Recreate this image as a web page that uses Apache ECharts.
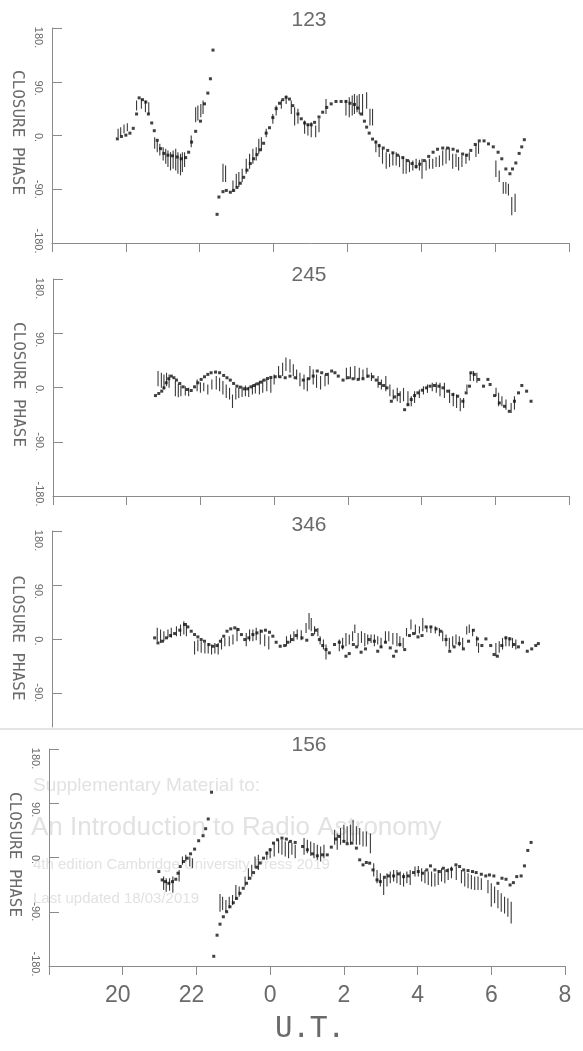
<!DOCTYPE html>
<html><head><meta charset="utf-8">
<script src="https://cdn.jsdelivr.net/npm/echarts@6/dist/echarts.min.js"></script>
<style>html,body{margin:0;padding:0;background:#fff}#c{width:583px;height:1051px}</style>
</head><body><div id="c"></div>
<script>
// Closure phase (degrees) versus U.T. (hours; 24 = 0h next day)
const panelTitles = ['123', '245', '346', '156'];
const xTickHours = [18, 20, 22, 24, 26, 28, 30, 32];
const yTickValues = [-180, -90, 0, 90, 180];
const yAxisTitle = 'CLOSURE PHASE';
const xAxisTitle = 'U.T.';

// ---- Triangle 123 ----
const p1ModelT = [19.77,19.88,20.00,20.11,20.20,20.29,20.36,20.45,20.54,20.61,20.70,20.77,20.85,20.94,21.03,21.14,21.26,21.39,21.50,21.62,21.70,21.78,21.89,22.02,22.13,22.22,22.29,22.36,22.47,22.52,22.63,22.72,22.83,22.92,23.01,23.10,23.19,23.28,23.37,23.46,23.55,23.64,23.73,23.80,23.89,23.98,24.07,24.16,24.25,24.34,24.43,24.52,24.66,24.75,24.84,24.93,25.02,25.11,25.23,25.33,25.44,25.56,25.69,25.83,25.96,26.07,26.19,26.28,26.37,26.46,26.52,26.59,26.68,26.77,26.86,26.97,27.09,27.23,27.36,27.50,27.63,27.75,27.86,27.96,28.08,28.20,28.32,28.44,28.58,28.71,28.86,28.98,29.12,29.23,29.34,29.46,29.57,29.70,29.82,29.95,30.08,30.18,30.29,30.40,30.47,30.56,30.65,30.72,30.79];
const p1ModelPhase = [-5.6,-1.7,0.6,3.9,12,36,63,60,56,36,21,8,-8,-22,-30,-33,-34,-36,-39,-37,-28,-11,7,24,53,71,95,143,-132,-103,-94,-92,-95,-92,-87,-80,-70,-58,-47,-39,-32,-24,-13,4,13,30,45,54,60,64,61,50,36,28,21,18,18,22,31,39,47,53,57,57,57,54,52,46,36,24,14,4,-6,-11,-17,-21,-25,-29,-33,-37,-42,-47,-52,-48,-42,-35,-28,-23,-21,-21,-23,-26,-31,-33,-25,-15,-9,-9,-14,-19,-28,-39,-56,-64,-56,-46,-30,-19,-7];
const p1ObsT = [19.79,19.86,19.95,20.04,20.29,20.42,20.53,20.62,20.78,20.85,20.92,21.01,21.08,21.14,21.21,21.28,21.35,21.41,21.48,21.53,21.59,21.77,21.89,21.95,22.03,22.09,22.63,22.70,22.90,22.99,23.06,23.15,23.26,23.35,23.44,23.53,23.60,23.67,23.80,23.98,24.07,24.21,24.34,24.48,24.57,24.66,24.84,24.93,25.02,25.14,25.23,25.42,25.96,26.05,26.13,26.19,26.26,26.32,26.41,26.52,26.61,26.68,26.77,26.86,26.95,27.05,27.14,27.23,27.32,27.41,27.51,27.59,27.68,27.77,27.86,27.95,28.02,28.13,28.22,28.31,28.40,28.49,28.58,28.67,28.76,28.85,28.94,29.01,29.10,29.21,29.30,29.48,29.55,30.02,30.11,30.22,30.29,30.36,30.45,30.54];
const p1ObsLo = [-2.8,0,3.9,7.2,41.8,44.6,39,36.2,-22.3,-27.9,-33.4,-41.8,-47.3,-52.9,-58.5,-55.7,-58.5,-64.1,-66.8,-61.3,-52.9,-19.5,22.3,25.1,30.6,36.2,-78,-78,-94.7,-86.3,-86.3,-78,-64.1,-55.7,-47.3,-41.8,-30.6,-25.1,-2.8,19.5,33.4,44.6,52.9,36.2,16.7,19.5,2.8,0,-2.8,-2.8,5.6,36.2,33.4,30.6,33.4,36.2,39,36.2,33.4,44.6,16.7,16.7,-27.9,-36.2,-47.3,-55.7,-52.9,-50.1,-50.1,-52.9,-64.1,-64.1,-61.3,-58.5,-55.7,-58.5,-72.4,-58.5,-55.7,-55.7,-52.9,-52.9,-50.1,-47.3,-41.8,-55.7,-52.9,-58.5,-52.9,-47.3,-41.8,-36.2,-30.6,-69.6,-78,-97.5,-97.5,-100.3,-133.7,-128.1];
const p1ObsHi = [11.1,13.9,18.4,20.6,58.5,61.3,58.5,55.7,-2.8,-8.4,-13.9,-19.5,-22.3,-25.1,-27.9,-25.1,-22.3,-27.9,-30.6,-27.9,-27.9,0,47.3,50.1,52.9,58.5,-47.3,-50.1,-75.2,-64.1,-61.3,-55.7,-39,-30.6,-22.3,-19.5,-5.6,-2.8,11.1,36.2,50.1,59.6,66.8,58.5,47.3,44.6,25.1,19.5,22.3,16.7,27.9,61.3,59.6,64.1,66.8,69.6,66.8,69.6,69.6,72.4,44.6,44.6,-8.4,-13.9,-22.3,-27.9,-30.6,-27.9,-27.9,-33.4,-36.2,-39,-41.8,-41.8,-39,-40.7,-39,-41.8,-39,-39,-36.2,-33.4,-25.1,-22.3,-19.5,-30.6,-30.6,-36.2,-33.4,-30.6,-27.9,-13.9,-11.1,-41.8,-58.5,-78,-78,-80.8,-103,-97.5];

// ---- Triangle 245 ----
const p2ModelT = [20.78,20.87,20.95,21.01,21.07,21.14,21.21,21.28,21.35,21.44,21.53,21.64,21.75,21.84,21.93,22.02,22.11,22.20,22.29,22.41,22.52,22.63,22.72,22.81,22.90,22.99,23.08,23.19,23.28,23.37,23.46,23.55,23.64,23.73,23.82,23.91,24.03,24.16,24.30,24.43,24.57,24.79,24.93,25.06,25.17,25.29,25.42,25.56,25.65,25.74,25.87,26.01,26.14,26.28,26.41,26.55,26.68,26.77,26.86,26.97,27.06,27.18,27.27,27.38,27.54,27.63,27.72,27.81,27.90,28.02,28.13,28.23,28.35,28.47,28.58,28.71,28.85,28.98,29.12,29.21,29.30,29.34,29.43,29.55,29.68,29.80,29.86,29.98,30.11,30.25,30.38,30.52,30.63,30.72,30.85,30.97];
const p2ModelPhase = [-13.4,-10,-6.1,-0.6,7.8,14.5,18.9,16.2,12.3,6.7,1.1,-3.3,-5,1.1,7.8,13.4,17.8,21.7,24.5,25.6,24.5,20,16.2,12.3,6.7,2.2,0.6,-2.2,-2.2,1.1,3.3,6.1,8.9,12.3,15,16.7,17.8,17.8,16.2,18.9,16.2,12.3,14.5,18.9,27.3,24.5,21.7,27.3,24.5,18.9,12.3,16.2,14.5,13.4,14.5,18.9,17.8,12.3,6.7,3.3,-0.6,-22.8,-15.6,-11.7,-36.8,-28.4,-20,-13.4,-8.9,-4.5,-0.6,2.2,3.3,2.2,-0.6,-6.1,-11.7,-14.5,-22.8,-8.9,2.2,24.5,21.7,13.4,2.2,13.4,5,-13.4,-25.6,-31.2,-39.5,-22.8,-8.9,3.3,-6.1,-22.8];
const p2ObsT = [20.85,20.94,21.01,21.08,21.15,21.32,21.40,21.47,21.59,21.68,21.91,22.00,22.09,22.20,22.31,22.43,22.52,22.61,22.70,22.79,22.87,22.96,23.04,23.13,23.22,23.31,23.41,23.49,23.60,23.69,23.80,23.91,24.00,24.12,24.23,24.32,24.43,24.52,24.61,24.70,24.81,24.90,24.97,25.06,25.15,25.26,25.38,25.47,25.96,26.07,26.19,26.31,26.41,26.52,26.64,26.82,26.91,27.03,27.14,27.23,27.34,27.42,27.51,27.63,27.72,27.81,27.94,28.05,28.16,28.29,28.40,28.50,28.62,28.76,28.86,28.95,29.05,29.14,29.23,29.32,29.41,29.50,30.02,30.09,30.18,30.29,30.43,30.52];
const p2ObsLo = [2.2,-0.6,-3.3,2.2,-0.6,-14.5,-16.2,-14.5,-13.4,-14.5,-6.1,-8.9,-6.1,-11.7,-3.3,-3.3,-6.1,-11.7,-17.3,-20,-34,-20,-17.3,-15.6,-14.5,-15.6,-11.7,-10,-11.7,-8.9,-6.1,-8.9,5,16.2,18.9,27.3,24.5,18.9,13.4,2.2,-3.3,-6.1,13.4,5,-0.6,-3.3,2.2,5,13.4,14.5,13.4,13.4,14.5,16.2,10.6,-0.6,-3.3,-6.1,-14.5,-20,-22.8,-25.6,-22.8,-31.2,-31.2,-25.6,-17.3,-11.7,-8.9,-6.1,-8.9,-14.5,-17.3,-25.6,-31.2,-34,-39.5,-34,-6.1,10.6,10.6,7.8,-14.5,-31.2,-31.2,-36.8,-42.3,-36.8];
const p2ObsHi = [27.3,24.5,21.7,24.5,21.7,10.6,6.7,3.3,2.2,-0.6,13.4,8.9,7.8,5,13.4,18.9,16.2,10.6,5,-0.6,-11.7,-0.6,-0.6,2.2,3.3,1.1,5,7.8,10.6,13.4,13.4,16.2,21.7,35.6,41.2,49.6,46.8,38.4,30,24.5,21.7,16.2,35.6,30,21.7,18.9,21.7,24.5,32.8,34.5,35.6,32.8,30,32.8,24.5,18.9,13.4,18.9,5,-3.3,-0.6,-6.1,-0.6,-6.1,-14.5,-6.1,-3.3,2.2,5,7.8,8.9,7.8,7.8,-3.3,-8.9,-11.7,-17.3,-17.3,5,24.5,27.3,24.5,-0.6,-8.9,-14.5,-20,-25.6,-14.5];

// ---- Triangle 346 ----
const p3ModelT = [20.78,20.87,20.99,21.10,21.21,21.32,21.46,21.59,21.68,21.77,21.86,21.95,22.04,22.13,22.25,22.36,22.47,22.56,22.65,22.74,22.84,22.95,23.04,23.13,23.22,23.33,23.44,23.55,23.67,23.78,23.89,23.98,24.07,24.18,24.30,24.39,24.50,24.61,24.77,24.90,25.05,25.15,25.24,25.33,25.42,25.51,25.65,25.78,25.87,25.96,26.05,26.16,26.25,26.37,26.49,26.59,26.73,26.82,26.91,27.03,27.16,27.25,27.32,27.42,27.55,27.68,27.79,27.91,28.02,28.13,28.26,28.40,28.53,28.67,28.77,28.89,29.03,29.14,29.28,29.41,29.52,29.64,29.75,29.88,29.97,30.06,30.18,30.29,30.40,30.51,30.63,30.74,30.87,30.99,31.10,31.17];
const p3ModelPhase = [1.7,-6.7,-3.9,1.7,5.6,8.9,14.5,24,20,12.8,7.2,3.3,-1.1,-3.9,-9.5,-12.3,-11.1,-3.9,4.5,12.8,16.7,18.4,15.6,7.2,-1.1,1.7,7.2,10,12.8,14.5,11.1,4.5,-5.6,-12.3,-11.1,-5.6,-1.1,5.6,1.7,-2.2,7.2,14.4,-1.1,-11.1,-17.8,-23.3,-9.4,-5.6,-13.3,-28.9,-24.5,-9.4,-13.3,-22.2,-16.7,-1.1,-3.9,-20.6,-13.3,-5.6,-15,-28.9,-20.6,-9.4,-17.8,5.6,8.9,3.3,5.6,20,20,16.7,12.8,-1.1,-20.6,-13.3,-7.8,-16.7,-3.9,14.4,0,-11.1,0,-11.1,-26.1,-28.9,-11.1,1.7,0,-9.4,-13.3,-5.6,-20.6,-16.7,-11.1,-7.8];
const p3ObsT = [20.85,20.94,21.03,21.14,21.23,21.37,21.48,21.57,21.64,21.86,21.95,22.04,22.14,22.23,22.32,22.41,22.50,22.59,22.68,22.80,22.90,23.01,23.26,23.35,23.44,23.53,23.64,23.76,23.87,24.35,24.46,24.55,24.64,24.75,24.88,24.96,25.02,25.11,25.20,25.26,25.35,25.42,25.78,25.87,25.96,26.05,26.14,26.20,26.29,26.38,26.47,26.55,26.64,26.73,26.82,26.91,27.03,27.12,27.23,27.34,27.42,27.51,27.60,27.72,27.84,27.95,28.04,28.15,28.26,28.38,28.49,28.58,28.67,28.76,28.85,28.94,29.03,29.12,29.23,29.30,29.39,29.50,29.55,30.02,30.11,30.20,30.29,30.38,30.47,30.56];
const p3ObsLo = [-3.9,-6.7,-3.9,1.7,1.7,4.5,4.5,7.2,4.5,-26.1,-20.6,-23.3,-24.5,-24.5,-26.1,-24.5,-26.1,-17.8,-12.3,-12.3,-9.5,-3.9,-12.3,-3.9,-3.9,-2.2,-9.5,-12.3,-17.8,-12.3,-6.7,-3.9,-1.1,-2.2,10,15.6,12.8,7.2,4.4,-9.4,-17.8,-34.4,-20.6,-17.8,-12.2,-9.4,-3.9,10,-12.2,-6.7,-12.2,-9.4,-6.7,-12.2,-9.4,-15,-6.7,-3.9,-9.4,-12.2,-13.3,-15,4.4,15.6,7.2,8.9,12.8,11.1,10,8.9,4.4,-3.9,-12.2,-17.8,-12.2,-9.4,-12.2,-15,7.2,10,4.4,-12.2,-23.3,-28.9,-23.3,-17.8,-12.2,-12.2,-15,-17.8];
const p3ObsHi = [18.4,15.6,12.8,15.6,18.4,21.1,24,29.5,26.7,-3.9,-1.1,-3.9,-6.7,-6.7,-9.5,-6.7,-6.7,1.7,1.7,4.5,7.2,18.4,10,15.6,15.6,18.4,15.6,7.2,4.5,4.5,7.2,12.8,15.6,14.4,26.7,43.3,35,21.1,18.3,4.4,-1.1,-9.4,-1.1,1.7,10,7.2,12.8,23.9,10,12.8,10,7.2,7.2,7.2,4.4,1.7,12.8,12.8,10,10,4.4,1.7,18.3,32.2,23.9,21.1,35,21.1,21.1,21.1,18.3,12.8,7.2,1.7,4.4,7.2,4.4,1.7,21.1,23.9,16.7,4.4,-6.7,-6.7,-3.9,1.7,4.4,3.3,1.7,-1.1];

// ---- Triangle 156 ----
const p4ModelT = [20.98,21.07,21.16,21.25,21.35,21.44,21.50,21.56,21.65,21.75,21.84,21.95,22.06,22.18,22.25,22.32,22.41,22.47,22.56,22.64,22.73,22.82,22.91,23.00,23.09,23.18,23.27,23.36,23.45,23.55,23.64,23.73,23.82,23.91,24.00,24.09,24.20,24.32,24.44,24.55,24.68,24.88,25.01,25.15,25.28,25.42,25.55,25.66,25.78,25.87,26.00,26.09,26.22,26.34,26.43,26.52,26.61,26.70,26.79,26.90,26.99,27.10,27.21,27.35,27.48,27.62,27.75,27.89,28.02,28.14,28.25,28.35,28.47,28.59,28.70,28.80,28.92,29.04,29.14,29.25,29.37,29.49,29.59,29.73,29.85,29.95,30.07,30.18,30.29,30.40,30.51,30.60,30.69,30.81,30.90,30.99,31.08];
const p4ModelPhase = [-23.3,-37.2,-40,-42.8,-40,-36.1,-26.1,-15,-6.7,-1.1,6.1,13.9,27.8,36.1,47.8,63.9,108.3,-163.9,-128.9,-110.6,-98.3,-90,-81.7,-75,-67.8,-59.4,-51.1,-42.8,-34.4,-25,-16.1,-9,-1.1,7.2,12.8,23.9,29.4,32.2,30.6,26.7,25,18.3,12.8,6.1,2.8,4.4,4.4,17.2,30.6,35,26.7,22.8,23.9,15.6,-3.9,-12.2,-8.3,-9.4,-20.6,-37.2,-40,-32.8,-30.6,-30.6,-27.2,-31.7,-30.6,-25,-23.3,-26.1,-20.6,-13.9,-20.6,-23.3,-17.8,-21.7,-19.4,-12.2,-15,-20.6,-21.7,-23.3,-25,-27.8,-30.6,-28.9,-30.6,-42.8,-34.4,-36.1,-45.6,-41.7,-31.7,-30.6,-13.9,11.7,25];
const p4ObsT = [21.11,21.18,21.27,21.36,21.53,21.62,21.71,21.82,21.89,22.64,22.71,22.80,22.89,22.98,23.07,23.16,23.32,23.41,23.50,23.59,23.68,23.91,24.00,24.11,24.23,24.32,24.41,24.50,24.59,24.68,24.92,25.01,25.10,25.19,25.28,25.37,25.46,25.75,25.82,25.91,26.00,26.09,26.18,26.25,26.34,26.43,26.52,26.61,26.72,26.81,26.90,26.99,27.08,27.17,27.26,27.35,27.44,27.53,27.62,27.71,27.80,27.93,28.02,28.11,28.20,28.29,28.38,28.47,28.56,28.65,28.74,28.83,28.92,29.05,29.19,29.28,29.37,29.46,29.55,29.64,29.73,29.91,30.00,30.09,30.18,30.27,30.36,30.45,30.54];
const p4ObsLo = [-53.9,-56.7,-55,-58.3,-40,-12.2,-6.7,-15,-17.8,-90,-87.2,-90,-84.4,-78.9,-70.6,-65,-48.3,-37.2,-31.7,-17.8,-20.6,-3.9,-1.1,1.7,7.2,4.4,1.7,-1.1,4.4,-1.1,4.4,7.2,2.8,-1.1,-3.9,-6.7,-1.1,21.1,12.8,21.1,26.7,23.9,21.1,26.7,21.1,21.1,18.3,18.3,7.2,-31.7,-42.8,-48.3,-62.2,-48.3,-42.8,-40,-42.8,-45.6,-48.3,-42.8,-45.6,-31.7,-31.7,-40,-42.8,-45.6,-48.3,-48.3,-45.6,-40,-42.8,-37.2,-34.4,-37.2,-42.8,-48.3,-51.1,-52.8,-53.9,-53.9,-53.9,-59.4,-81.7,-76.1,-84.4,-90,-92.8,-98.3,-109.4];
const p4ObsHi = [-31.7,-34.4,-34.4,-31.7,-20.6,1.7,4.4,1.7,-1.1,-60.6,-65,-70.6,-65,-62.2,-45.6,-48.3,-31.7,-17.8,-12.2,1.7,4.4,10,15.6,23.9,29.4,29.4,26.7,26.7,23.9,21.1,32.2,29.4,26.7,23.9,21.1,18.3,21.1,46.1,40,48.9,54.4,51.7,54.4,62.8,51.7,48.9,43.3,43.3,40,-9.4,-20.6,-26.1,-34.4,-26.1,-23.3,-20.6,-20.6,-23.3,-26.1,-23.3,-20.6,-15,-13.9,-17.8,-20.6,-23.3,-23.3,-26.1,-20.6,-17.8,-20.6,-17.8,-15,-15,-20.6,-23.3,-26.1,-28.9,-31.7,-31.7,-34.4,-37.2,-42.8,-48.3,-53.9,-59.4,-65,-67.8,-73.3];

const panels = [
  {mt: p1ModelT, mp: p1ModelPhase, ot: p1ObsT, lo: p1ObsLo, hi: p1ObsHi},
  {mt: p2ModelT, mp: p2ModelPhase, ot: p2ObsT, lo: p2ObsLo, hi: p2ObsHi},
  {mt: p3ModelT, mp: p3ModelPhase, ot: p3ObsT, lo: p3ObsLo, hi: p3ObsHi},
  {mt: p4ModelT, mp: p4ModelPhase, ot: p4ObsT, lo: p4ObsLo, hi: p4ObsHi}
];

// layout (pixels)
const grids = [
  {left: 52, top: 28, width: 517, height: 215},
  {left: 53, top: 279, width: 516, height: 217},
  {left: 52, top: 531, width: 517, height: 196},
  {left: 49, top: 749, width: 516, height: 217}
];
const titleY = [20.5, 275, 525.5, 745.5];
const AX = '#8a8a8a', TX = '#6a6a6a';

const chart = echarts.init(document.getElementById('c'), null, {renderer: 'canvas'});

const yLabelStyle = {fontFamily: 'Liberation Sans', fontSize: 11, color: TX};
const labelRich = {
  a: {padding: [0, 0, 0, 19]}, b: {padding: [0, 0, 0, 13]}, c: {padding: [0, 0, 0, 4]},
  d: {padding: [0, 0, 0, 0]}, e: {padding: [0, 4, 0, 0]}
};
const labelKey = {'180': 'a', '90': 'b', '0': 'c', '-90': 'd', '-180': 'e'};
for (const k in labelRich) Object.assign(labelRich[k], yLabelStyle);

const xAxes = grids.map((g, i) => ({
  type: 'value', gridIndex: i, min: xTickHours[0], max: xTickHours[xTickHours.length - 1], interval: 2,
  show: i !== 2,
  axisLine: {onZero: false, lineStyle: {color: AX, width: 1}},
  axisTick: {inside: false, length: 9, lineStyle: {color: AX}},
  splitLine: {show: false},
  axisLabel: {
    show: i === 3, margin: 18, fontFamily: 'Liberation Sans', fontSize: 23, color: TX,
    formatter: v => {
      if (v === xTickHours[0]) return '';
      const h = v % 24;
      return h >= 10 ? '{w|' + h + '}' : String(h);
    },
    rich: {w: {fontFamily: 'Liberation Sans', fontSize: 23, color: TX, padding: [0, 10, 0, 0]}}
  }
}));

const yAxes = grids.map((g, i) => {
  const cut = i === 2;
  const vals = cut ? yTickValues.filter(v => v > -180) : yTickValues;
  return {
    type: 'value', gridIndex: i, min: cut ? -147 : -180, max: 180,
    interval: cut ? undefined : 90,
    axisLine: {show: true, onZero: false, lineStyle: {color: AX, width: 1}},
    axisTick: {show: true, inside: true, length: 10, lineStyle: {color: AX}, customValues: vals},
    splitLine: {show: false},
    axisLabel: {
      customValues: vals, rotate: -90, align: 'center', verticalAlign: 'top', margin: 8,
      formatter: v => '{' + labelKey[String(v)] + '|' + v + '.}', rich: labelRich
    },
    name: yAxisTitle, nameLocation: 'middle', nameRotate: -90, nameGap: 25,
    nameTextStyle: {fontFamily: 'DejaVu Sans Mono', fontSize: 16, color: TX, align: 'center', verticalAlign: 'top',
      padding: cut ? [0, 0, 0, 18] : [0, 0, 0, -6]}
  };
});

const series = [];
panels.forEach((p, i) => {
  series.push({
    type: 'custom', xAxisIndex: i, yAxisIndex: i, silent: true, z: 2,
    data: p.ot.map((t, k) => [t, p.lo[k], p.hi[k]]),
    encode: {x: 0, y: [1, 2]},
    renderItem: (params, api) => {
      const a = api.coord([api.value(0), api.value(1)]);
      const b = api.coord([api.value(0), api.value(2)]);
      return {type: 'line', shape: {x1: a[0], y1: a[1], x2: b[0], y2: b[1]}, style: {stroke: '#3a3a3a', lineWidth: 1.1}};
    }
  });
  series.push({
    type: 'scatter', xAxisIndex: i, yAxisIndex: i, silent: true, z: 3,
    data: p.mt.map((t, k) => [t, p.mp[k]]),
    symbol: 'rect', symbolSize: 3, itemStyle: {color: '#111'}
  });
});

const graphic = [];
const wm = '#e2e2e2';
graphic.push(
  {type: 'text', z: -10, style: {text: 'Supplementary Material to:', x: 33, y: 786, fill: wm, fontFamily: 'Liberation Sans', fontSize: 19, textVerticalAlign: 'middle'}},
  {type: 'text', z: -10, style: {text: 'An Introduction to Radio Astronomy', x: 31, y: 828, fill: wm, fontFamily: 'Liberation Sans', fontSize: 26, textVerticalAlign: 'middle'}},
  {type: 'text', z: -10, style: {text: '4th edition Cambridge University Press 2019', x: 33, y: 865, fill: wm, fontFamily: 'Liberation Sans', fontSize: 15, textVerticalAlign: 'middle'}},
  {type: 'text', z: -10, style: {text: 'Last updated 18/03/2019', x: 33, y: 899, fill: wm, fontFamily: 'Liberation Sans', fontSize: 15, textVerticalAlign: 'middle'}},
  {type: 'line', z: -10, shape: {x1: 0, y1: 729, x2: 583, y2: 729}, style: {stroke: '#e4e4e4', lineWidth: 2}}
);
panelTitles.forEach((t, i) => graphic.push({
  type: 'text', style: {text: t, x: 309, y: titleY[i], fill: TX, fontFamily: 'Liberation Sans', fontSize: 21, textAlign: 'center', textVerticalAlign: 'middle'}
}));
graphic.push({type: 'text', style: {text: xAxisTitle, x: 310, y: 1029, fill: TX, fontFamily: 'DejaVu Sans Mono', fontSize: 29, textAlign: 'center', textVerticalAlign: 'middle'}});

chart.setOption({
  backgroundColor: '#ffffff',
  animation: false,
  grid: grids.map(g => Object.assign({containLabel: false, outerBoundsMode: 'none'}, g)),
  xAxis: xAxes,
  yAxis: yAxes,
  series,
  graphic
});
</script>
</body></html>
